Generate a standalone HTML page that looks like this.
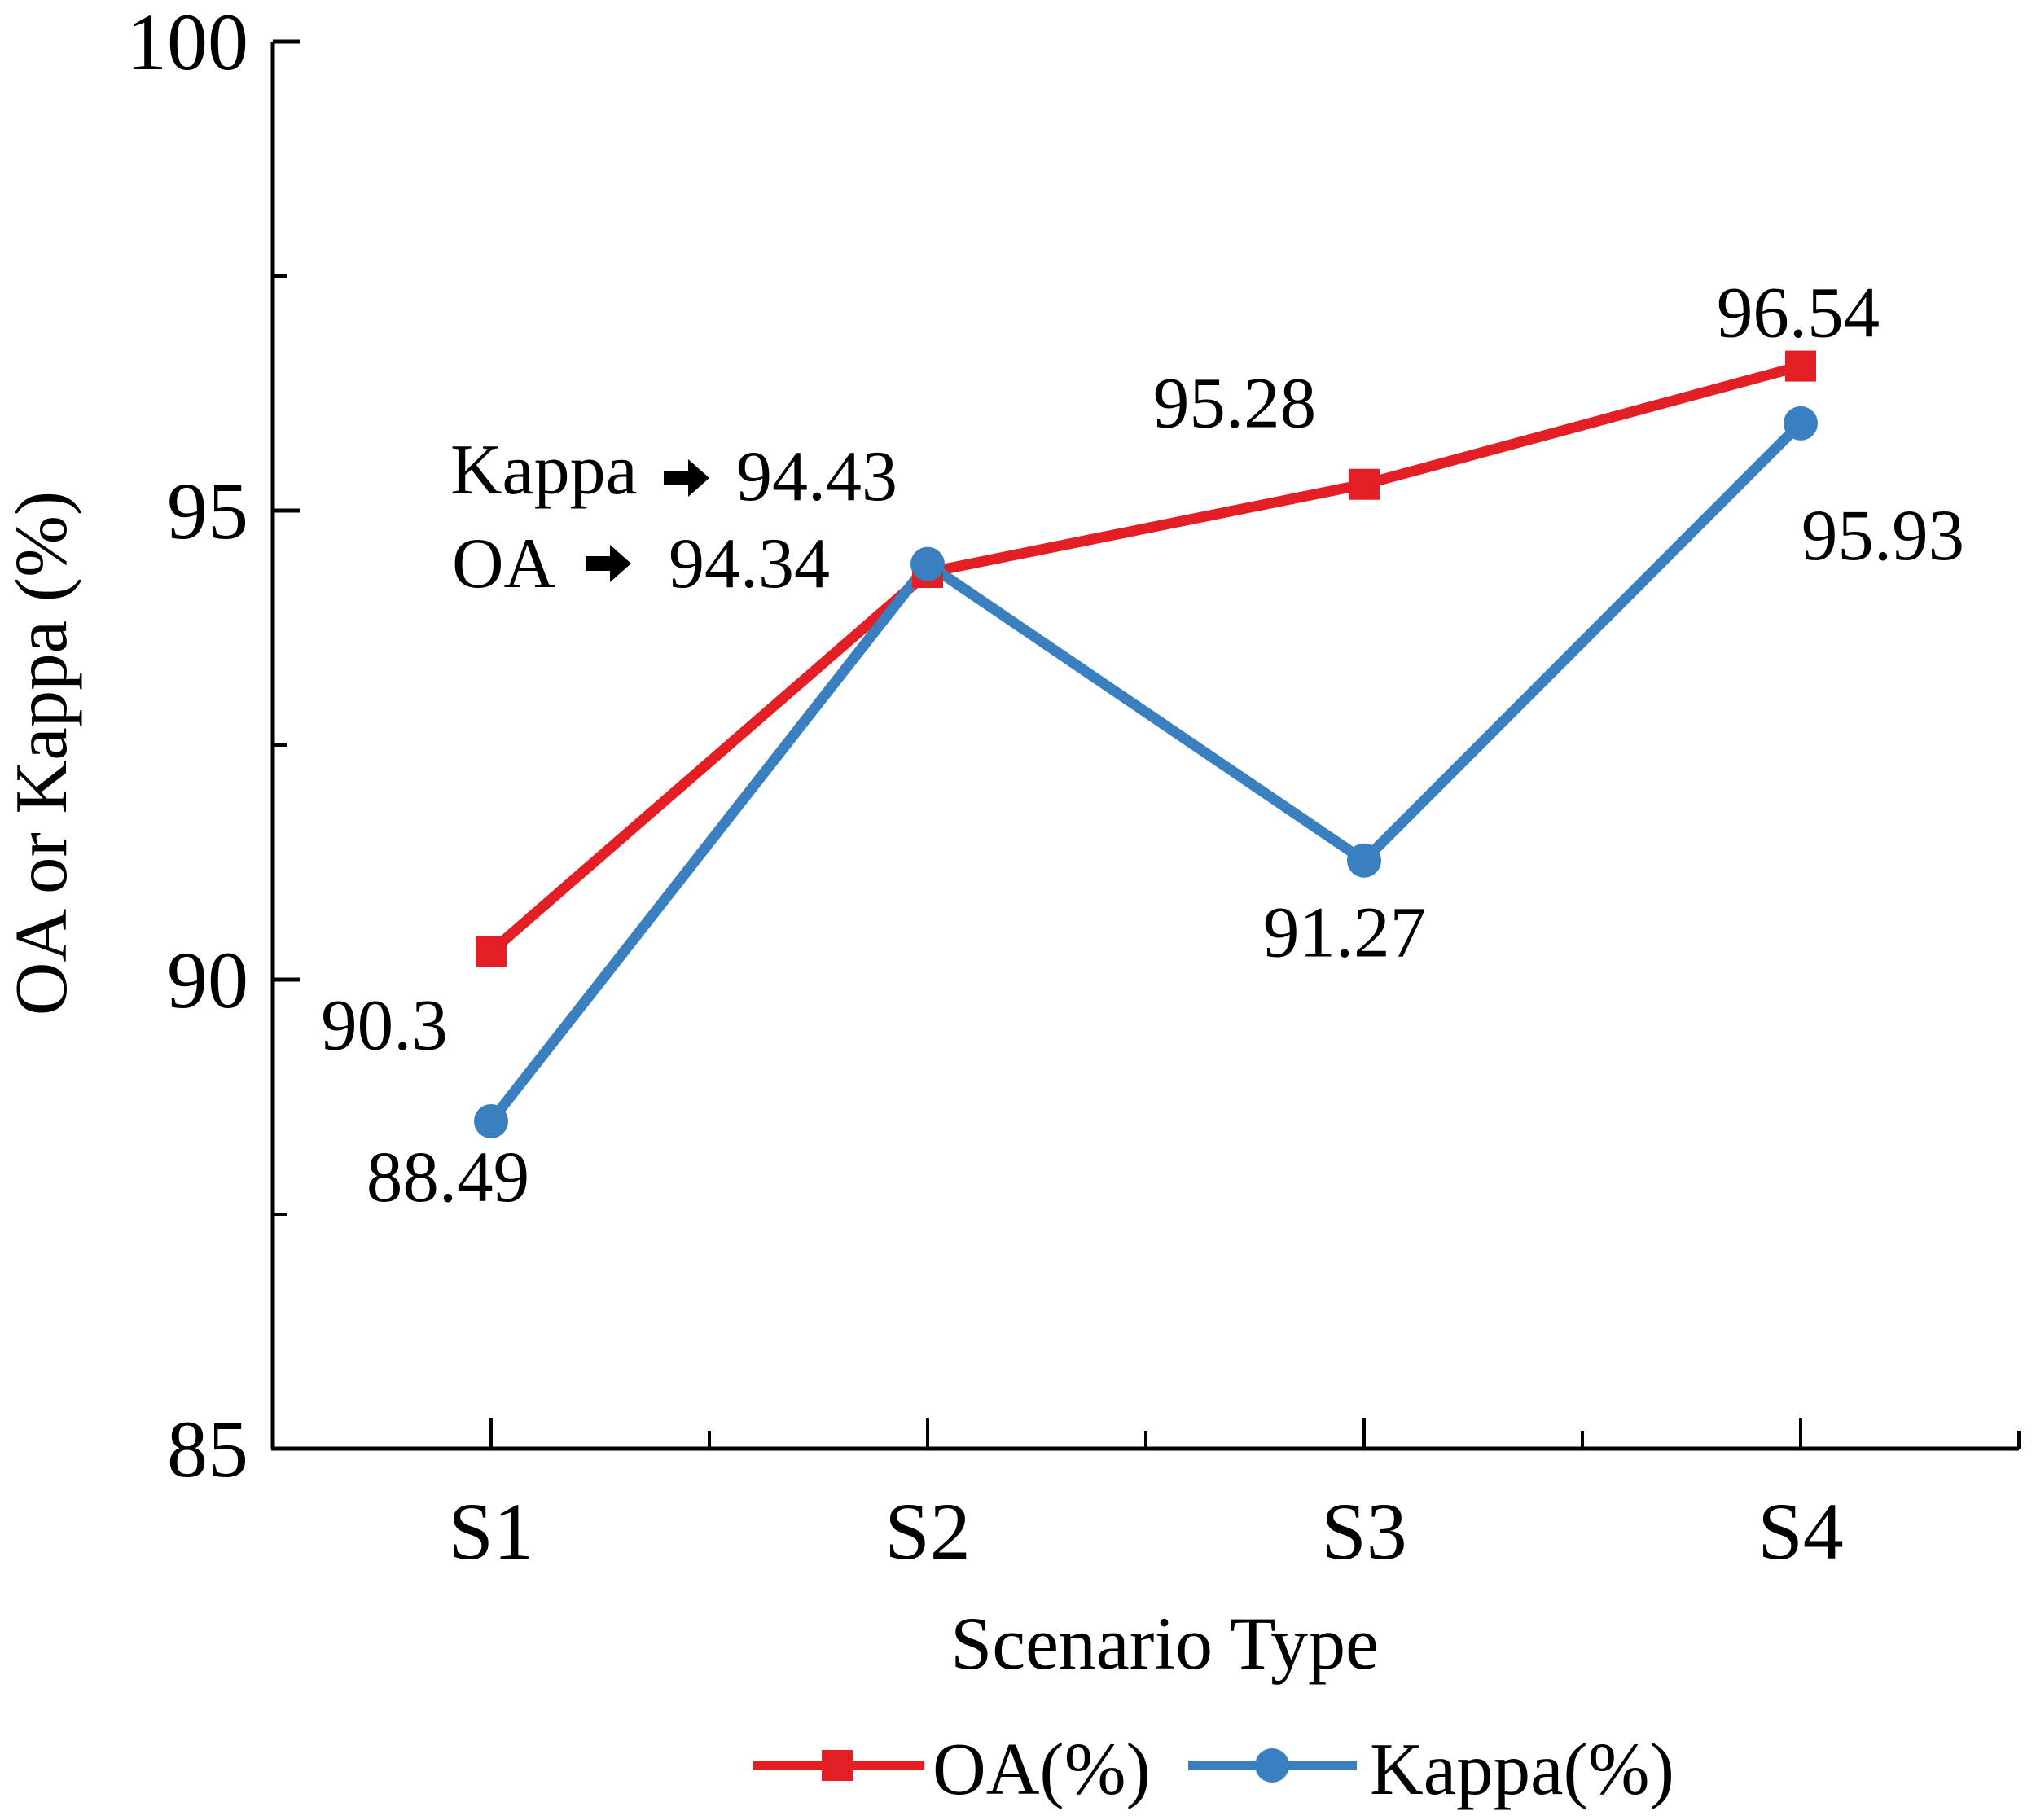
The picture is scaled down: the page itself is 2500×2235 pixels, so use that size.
<!DOCTYPE html>
<html><head><meta charset="utf-8"><style>
html,body{margin:0;padding:0;background:#fff}
svg{display:block}
text{font-family:"Liberation Serif",serif;fill:#000}
</style></head><body>
<svg id="chart" width="2500" height="2235" viewBox="0 0 2500 2235">
<g id="axes"></g>
<g id="series"></g>
<g id="labels"></g>
<text x="60" y="925" font-size="91" text-anchor="middle" transform="rotate(-90 60 925)" dominant-baseline="middle">OA or Kappa (%)</text>
<text x="1430" y="2049" font-size="92" text-anchor="middle">Scenario Type</text>
<g>
  <g>
    <line x1="925" y1="2168" x2="1135" y2="2168" stroke="#e31e24" stroke-width="12"/>
    <rect x="1009" y="2149" width="38" height="38" fill="#e31e24"/>
    <text x="1145" y="2203" font-size="91">OA(%)</text>
  </g>
  <g>
    <line x1="1459" y1="2168" x2="1666" y2="2168" stroke="#3a7fc0" stroke-width="12"/>
    <circle cx="1562" cy="2168" r="21" fill="#3a7fc0"/>
    <text x="1682" y="2203" font-size="91">Kappa(%)</text>
  </g>
</g>
<g>
  <text x="553" y="606" font-size="88">Kappa</text>
  <path d="M815 578 h30 v-14 l26 23 l-26 23 v-14 h-30 z" fill="#000"/>
  <text x="904" y="614" font-size="88">94.43</text>
  <text x="555" y="721" font-size="88">OA</text>
  <path d="M719 683 h30 v-14 l26 23 l-26 23 v-14 h-30 z" fill="#000"/>
  <text x="821" y="721" font-size="88">94.34</text>
</g>
</svg>
<script>
const categories = ["S1","S2","S3","S4"];
const oaValues = [90.3, 94.34, 95.28, 96.54];
const kappaValues = [88.49, 94.43, 91.27, 95.93];
const yTicks = [85, 90, 95, 100];
const yMinorTicks = [87.5, 92.5, 97.5];
const oaLabels = ["90.3", "", "95.28", "96.54"];
const kappaLabels = ["88.49", "", "91.27", "95.93"];

const NS = "http://www.w3.org/2000/svg";
const X0 = 335, X1 = 2479, Y0 = 1779, Y1 = 51;
function xs(i){ return X0 + (i + 0.5) / categories.length * (X1 - X0); }
function ys(v){ return Y0 - (v - 85) / 15 * (Y0 - Y1); }
function mk(tag, attrs, parent){ const e = document.createElementNS(NS, tag); for (const k in attrs) e.setAttribute(k, attrs[k]); parent.appendChild(e); return e; }

const axes = document.getElementById("axes");
const yAxis = mk("line", {x1:X0, y1:Y0, x2:X0, y2:Y1, stroke:"#000", "stroke-width":5}, axes);


const xAxis = mk("line", {x1:X0-2, y1:Y0, x2:X1, y2:Y0, stroke:"#000", "stroke-width":5}, axes);


yTicks.forEach(v => {
  const t = mk("line", {x1:X0, y1:ys(v), x2:X0+33, y2:ys(v), stroke:"#000", "stroke-width":5}, axes);
  
  
  const l = mk("text", {x:X0-30, y:ys(v)+34, "font-size":100, "text-anchor":"end"}, axes);
  l.textContent = v;
  
  
});
yMinorTicks.forEach(v => {
  const t = mk("line", {x1:X0, y1:ys(v), x2:X0+17, y2:ys(v), stroke:"#000", "stroke-width":4}, axes);
  
  
});
categories.forEach((c, i) => {
  const t = mk("line", {x1:xs(i), y1:Y0, x2:xs(i), y2:Y0-38, stroke:"#000", "stroke-width":4}, axes);
  
  
  const l = mk("text", {x:xs(i), y:Y0+135, "font-size":100, "text-anchor":"middle"}, axes);
  l.textContent = c;
  
  
  const m = mk("line", {x1:xs(i)+(X1-X0)/categories.length/2, y1:Y0, x2:xs(i)+(X1-X0)/categories.length/2, y2:Y0-22, stroke:"#000", "stroke-width":4}, axes);
  
  
});

const series = document.getElementById("series");
const oaLine = mk("polyline", {points: oaValues.map((v,i)=>xs(i)+","+ys(v)).join(" "), fill:"none", stroke:"#e31e24", "stroke-width":13, "stroke-linejoin":"round"}, series);


const kLine = mk("polyline", {points: kappaValues.map((v,i)=>xs(i)+","+ys(v)).join(" "), fill:"none", stroke:"#3a7fc0", "stroke-width":13, "stroke-linejoin":"round"}, series);


oaValues.forEach((v,i) => {
  const r = mk("rect", {x:xs(i)-19, y:ys(v)-19, width:38, height:38, fill:"#e31e24"}, series);
  
  
});
kappaValues.forEach((v,i) => {
  const c = mk("circle", {cx:xs(i), cy:ys(v), r:21, fill:"#3a7fc0"}, series);
  
  
});

const labels = document.getElementById("labels");
const oaOff = [[-131, 120], [0,0], [-159, -70], [-3, -36]];
const kOff = [[-53, 98], [0,0], [-24, 118], [101, 167]];
oaLabels.forEach((s,i) => {
  if (!s) return;
  const t = mk("text", {x:xs(i)+oaOff[i][0], y:ys(oaValues[i])+oaOff[i][1], "font-size":89, "text-anchor":"middle"}, labels);
  t.textContent = s;
  
  
});
kappaLabels.forEach((s,i) => {
  if (!s) return;
  const t = mk("text", {x:xs(i)+kOff[i][0], y:ys(kappaValues[i])+kOff[i][1], "font-size":89, "text-anchor":"middle"}, labels);
  t.textContent = s;
  
  
});
</script>
</body></html>
